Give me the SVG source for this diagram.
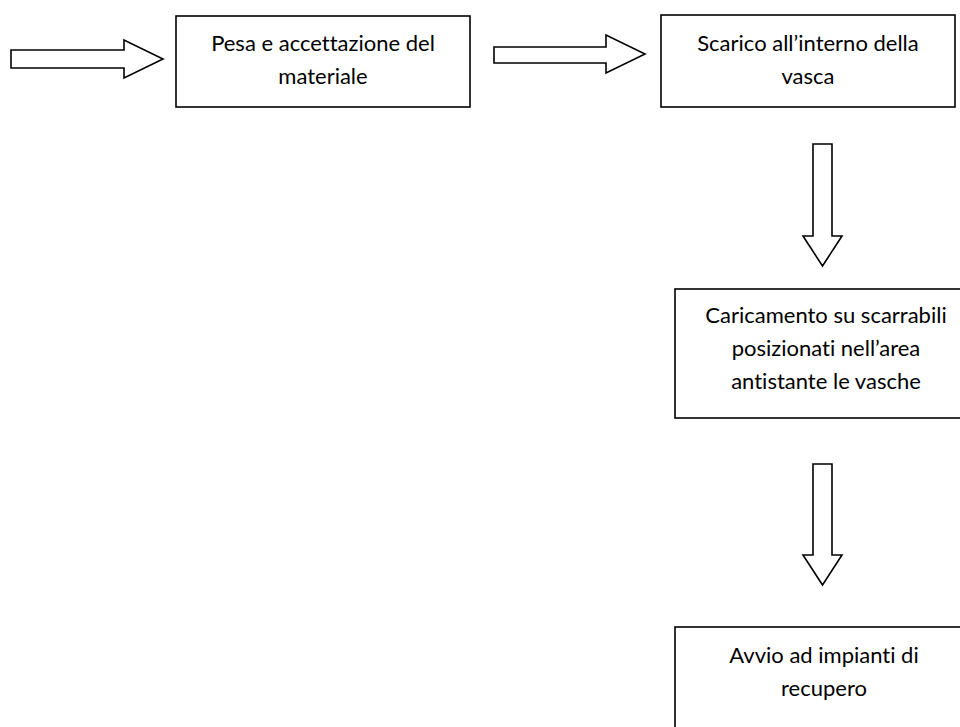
<svg xmlns="http://www.w3.org/2000/svg" width="960" height="727" viewBox="0 0 960 727">
<style>
.box{fill:#fff;stroke:#000;stroke-width:1.6}
.arr{fill:#fff;stroke:#000;stroke-width:1.6;stroke-linejoin:miter}
text{font-family:Lato,"Open Sans","Liberation Sans",sans-serif;font-size:22px;fill:#000;text-anchor:middle;font-variant-ligatures:none;font-feature-settings:"liga" 0,"clig" 0}
</style>
<rect width="960" height="727" fill="#fff"/>
<g id="connectors">
<polygon class="arr" points="11,50 124,50 124,40 163,59 124,78 124,68 11,68"/>
<polygon class="arr" points="494,47 606,47 606,35 645,54 606,73 606,63 494,63"/>
<polygon class="arr" points="813,144 832,144 832,236 842,236 822.5,266 803,236 813,236"/>
<polygon class="arr" points="813,464 832,464 832,555 842,555 822.5,585 803,555 813,555"/>
</g>
<g id="node1">
<rect class="box" x="176" y="16" width="294" height="91"/>
<text x="323" y="51">Pesa e accettazione del</text>
<text x="323" y="84">materiale</text>
</g>
<g id="node2">
<rect class="box" x="661" y="15" width="294" height="92"/>
<text x="808" y="51">Scarico all’interno della</text>
<text x="808" y="84">vasca</text>
</g>
<g id="node3">
<rect class="box" x="675" y="289" width="294" height="129"/>
<text x="826" y="323">Caricamento su scarrabili</text>
<text x="826" y="356">posizionati nell’area</text>
<text x="826" y="389">antistante le vasche</text>
</g>
<g id="node4">
<rect class="box" x="675" y="627" width="294" height="120"/>
<text x="824" y="663">Avvio ad impianti di</text>
<text x="824" y="696">recupero</text>
</g>
</svg>
